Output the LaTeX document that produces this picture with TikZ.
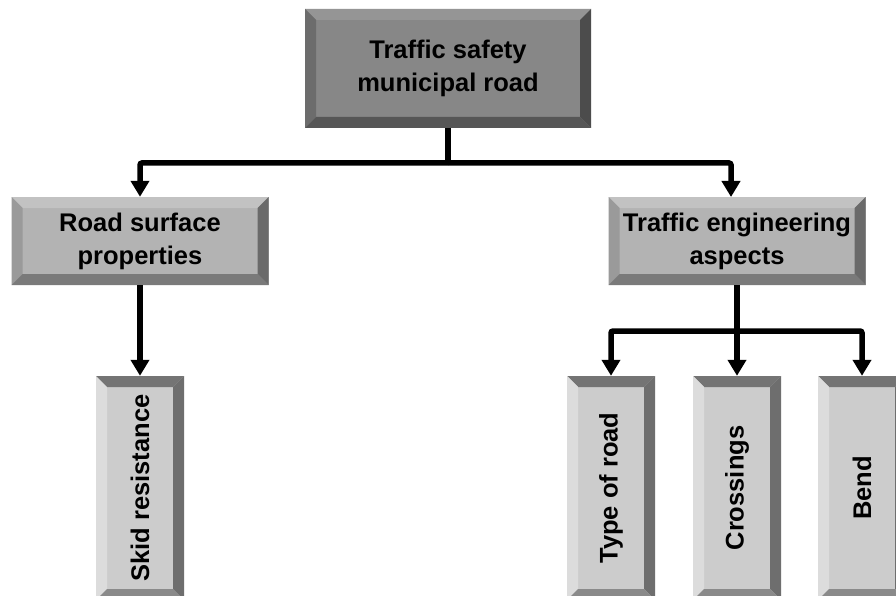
\documentclass[tikz,border=0pt]{standalone}
\usepackage{fontspec}
\setmainfont{Liberation Sans}
\usepackage{graphicx}
\usetikzlibrary{arrows.meta}
\definecolor{topface}{HTML}{878787}
\definecolor{toptop}{HTML}{959595}
\definecolor{topleft}{HTML}{6C6C6C}
\definecolor{topright}{HTML}{4C4C4C}
\definecolor{topbot}{HTML}{565656}
\definecolor{midface}{HTML}{B3B3B3}
\definecolor{midtop}{HTML}{C2C2C2}
\definecolor{midleft}{HTML}{9A9A9A}
\definecolor{midright}{HTML}{6A6A6A}
\definecolor{midbot}{HTML}{7A7A7A}
\definecolor{lowface}{HTML}{CCCCCC}
\definecolor{lowtop}{HTML}{747474}
\definecolor{lowleft}{HTML}{DCDCDC}
\definecolor{lowright}{HTML}{6E6E6E}
\definecolor{lowbot}{HTML}{8A8A8A}
\tikzset{
  bev/.style n args={5}{fill=#1, inner sep=0pt, align=center,
    font=\bfseries\fontsize{25.5}{33}\selectfont,
    path picture={
      \coordinate (@nw) at (path picture bounding box.north west);
      \coordinate (@ne) at (path picture bounding box.north east);
      \coordinate (@sw) at (path picture bounding box.south west);
      \coordinate (@se) at (path picture bounding box.south east);
      \fill[#2] (@nw) -- (@ne) -- ([xshift=-11pt,yshift=-11pt]@ne) -- ([xshift=11pt,yshift=-11pt]@nw) -- cycle;
      \fill[#3] (@nw) -- ([xshift=11pt,yshift=-11pt]@nw) -- ([xshift=11pt,yshift=11pt]@sw) -- (@sw) -- cycle;
      \fill[#4] (@ne) -- (@se) -- ([xshift=-11pt,yshift=11pt]@se) -- ([xshift=-11pt,yshift=-11pt]@ne) -- cycle;
      \fill[#5] (@sw) -- ([xshift=11pt,yshift=11pt]@sw) -- ([xshift=-11pt,yshift=11pt]@se) -- (@se) -- cycle;
    }},
  topbox/.style={bev={topface}{toptop}{topleft}{topright}{topbot}, minimum width=286pt, minimum height=119pt},
  midbox/.style={bev={midface}{midtop}{midleft}{midright}{midbot}, minimum width=257pt, minimum height=88pt},
  lowbox/.style={bev={lowface}{lowtop}{lowleft}{lowright}{lowbot}, minimum width=88pt, minimum height=224pt},
  arr/.style={line width=5.5pt, rounded corners=2pt, -{Triangle[width=18pt,length=16pt]}},
  ln/.style={line width=5.5pt, rounded corners=2pt}
}
\begin{document}
\begin{tikzpicture}[x=1pt,y=-1pt]
\clip (0,0) rectangle (896,596);
\fill[white] (0,0) rectangle (896,596);
\node[topbox] (top) at (448,68.5) {Traffic safety\\municipal road};
\node[midbox] (road) at (140,241) {Road surface\\properties};
\node[midbox] (eng) at (737,241) {Traffic engineering\\aspects};
\node[lowbox] (skid) at (140,488) {\rotatebox{90}{Skid resistance}};
\node[lowbox] (type) at (611,488) {\rotatebox{90}{Type of road}};
\node[lowbox] (cross) at (737,488) {\rotatebox{90}{Crossings}};
\node[lowbox] (bend) at (862,488) {\rotatebox{90}{Bend}};
\coordinate (j1) at (448,163);
\coordinate (e1) at (731,197);
\coordinate (j2) at (737,331);
\draw[ln] (top.south) -- (j1);
\draw[arr] (j1) -| (road.north);
\draw[arr] (j1) -| (e1);
\draw[arr] (road.south) -- (skid.north);
\draw[ln] (eng.south) -- (j2);
\draw[arr] (j2) -| (type.north);
\draw[arr] (j2) -- (cross.north);
\draw[arr] (j2) -| (bend.north);
\end{tikzpicture}
\end{document}
